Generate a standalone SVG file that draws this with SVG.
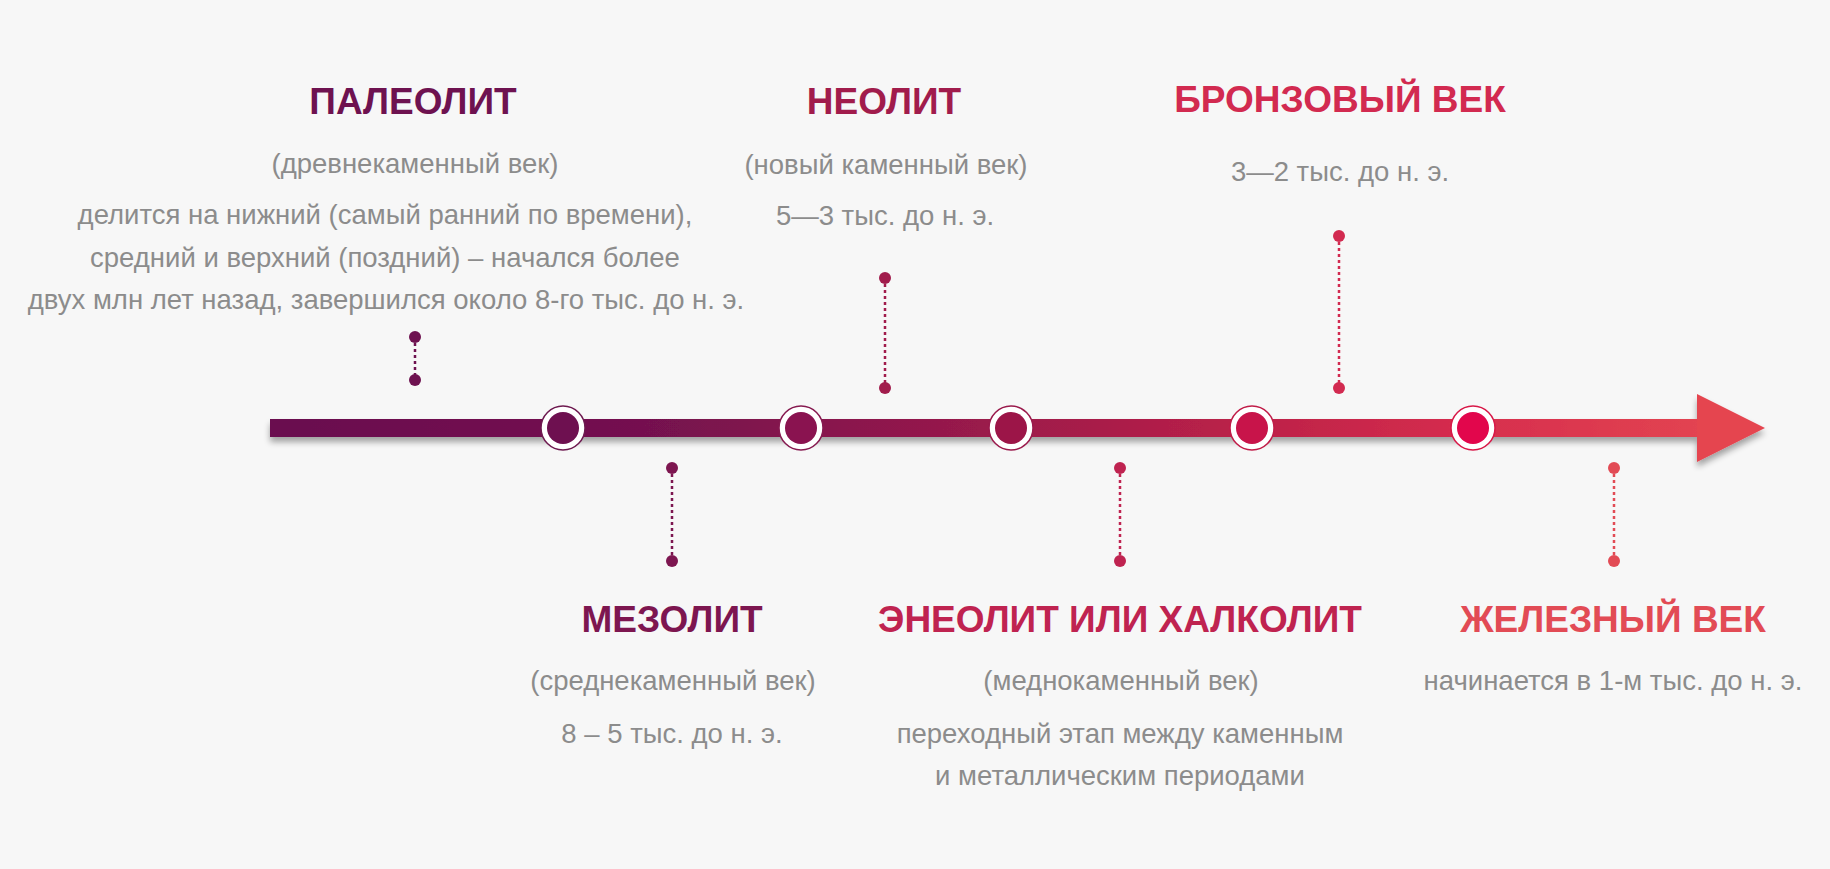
<svg xmlns="http://www.w3.org/2000/svg" width="1830" height="869" viewBox="0 0 1830 869">
<defs>
<linearGradient id="barGrad" gradientUnits="userSpaceOnUse" x1="270" y1="0" x2="1765" y2="0">
<stop offset="0" stop-color="#6a0f50"/>
<stop offset="0.25" stop-color="#74114f"/>
<stop offset="0.45" stop-color="#95194c"/>
<stop offset="0.65" stop-color="#bb2148"/>
<stop offset="0.8" stop-color="#d62d4e"/>
<stop offset="1" stop-color="#e64a52"/>
</linearGradient>
<filter id="shadow" x="-5%" y="-50%" width="110%" height="250%">
<feGaussianBlur in="SourceAlpha" stdDeviation="3"/>
<feOffset dx="0" dy="5" result="b"/>
<feComponentTransfer><feFuncA type="linear" slope="0.35"/></feComponentTransfer>
<feMerge><feMergeNode/><feMergeNode in="SourceGraphic"/></feMerge>
</filter>
<style>
.title{font-family:"Liberation Sans",Arial,sans-serif;font-weight:bold;font-size:37px;text-anchor:middle}
.body{font-family:"Liberation Sans",Arial,sans-serif;font-size:27.5px;fill:#8c8c8c;text-anchor:middle}
.pin{stroke-width:2.5;stroke-dasharray:3 3;fill:none}
.ring{fill:#ffffff;stroke-width:1.5}
</style>
</defs>
<rect width="1830" height="869" fill="#f7f7f7"/>

<g id="timeline" filter="url(#shadow)">
<rect x="270" y="419" width="1430" height="18" fill="url(#barGrad)"/>
<polygon points="1697,394 1765,428 1697,462" fill="#e5454f"/>
</g>

<g id="connectors">
<g id="pin-paleolith" fill="#6e1250" stroke="#6e1250">
<line class="pin" x1="415" y1="337" x2="415" y2="380"/>
<circle cx="415" cy="337" r="6" stroke="none"/>
<circle cx="415" cy="380" r="6" stroke="none"/>
</g>
<g id="pin-neolith" fill="#a11c4c" stroke="#a11c4c">
<line class="pin" x1="885" y1="278" x2="885" y2="388"/>
<circle cx="885" cy="278" r="6" stroke="none"/>
<circle cx="885" cy="388" r="6" stroke="none"/>
</g>
<g id="pin-bronze" fill="#d22a50" stroke="#d22a50">
<line class="pin" x1="1339" y1="236" x2="1339" y2="388"/>
<circle cx="1339" cy="236" r="6" stroke="none"/>
<circle cx="1339" cy="388" r="6" stroke="none"/>
</g>
<g id="pin-mesolith" fill="#7d1650" stroke="#7d1650">
<line class="pin" x1="672" y1="468" x2="672" y2="561"/>
<circle cx="672" cy="468" r="6" stroke="none"/>
<circle cx="672" cy="561" r="6" stroke="none"/>
</g>
<g id="pin-eneolith" fill="#bf2350" stroke="#bf2350">
<line class="pin" x1="1120" y1="468" x2="1120" y2="561"/>
<circle cx="1120" cy="468" r="6" stroke="none"/>
<circle cx="1120" cy="561" r="6" stroke="none"/>
</g>
<g id="pin-iron" fill="#e24b55" stroke="#e24b55">
<line class="pin" x1="1614" y1="468" x2="1614" y2="561"/>
<circle cx="1614" cy="468" r="6" stroke="none"/>
<circle cx="1614" cy="561" r="6" stroke="none"/>
</g>
</g>

<g id="markers">
<g id="marker-1"><circle class="ring" cx="563" cy="428" r="22" stroke="#6e1a50"/><circle cx="563" cy="428" r="16" fill="#6e1050"/></g>
<g id="marker-2"><circle class="ring" cx="801" cy="428" r="22" stroke="#861a50"/><circle cx="801" cy="428" r="16" fill="#8a1350"/></g>
<g id="marker-3"><circle class="ring" cx="1011" cy="428" r="22" stroke="#9a1a4c"/><circle cx="1011" cy="428" r="16" fill="#9c1548"/></g>
<g id="marker-4"><circle class="ring" cx="1252" cy="428" r="22" stroke="#c01c48"/><circle cx="1252" cy="428" r="16" fill="#c8144a"/></g>
<g id="marker-5"><circle class="ring" cx="1473" cy="428" r="22" stroke="#d81848"/><circle cx="1473" cy="428" r="16" fill="#e2064c"/></g>
</g>

<g id="node-paleolith">
<text class="title" x="413" y="114" fill="#6e1250">ПАЛЕОЛИТ</text>
<text class="body" x="415" y="173">(древнекаменный век)</text>
<text class="body" x="385" y="224">делится на нижний (самый ранний по времени),</text>
<text class="body" x="385" y="267">средний и верхний (поздний) – начался более</text>
<text class="body" x="386" y="309">двух млн лет назад, завершился около 8-го тыс. до н. э.</text>
</g>

<g id="node-neolith">
<text class="title" x="884" y="114" fill="#a11c4c">НЕОЛИТ</text>
<text class="body" x="886" y="174">(новый каменный век)</text>
<text class="body" x="885" y="225">5—3 тыс. до н. э.</text>
</g>

<g id="node-bronze">
<text class="title" x="1340" y="112" fill="#d22a50">БРОНЗОВЫЙ ВЕК</text>
<text class="body" x="1340" y="181">3—2 тыс. до н. э.</text>
</g>

<g id="node-mesolith">
<text class="title" x="672" y="632" fill="#7d1650">МЕЗОЛИТ</text>
<text class="body" x="673" y="690">(среднекаменный век)</text>
<text class="body" x="672" y="743">8 – 5 тыс. до н. э.</text>
</g>

<g id="node-eneolith">
<text class="title" x="1120" y="632" fill="#bf2350">ЭНЕОЛИТ ИЛИ ХАЛКОЛИТ</text>
<text class="body" x="1121" y="690">(меднокаменный век)</text>
<text class="body" x="1120" y="743">переходный этап между каменным</text>
<text class="body" x="1120" y="785">и металлическим периодами</text>
</g>

<g id="node-iron">
<text class="title" x="1613" y="632" fill="#e24b55">ЖЕЛЕЗНЫЙ ВЕК</text>
<text class="body" x="1613" y="690">начинается в 1-м тыс. до н. э.</text>
</g>
</svg>
